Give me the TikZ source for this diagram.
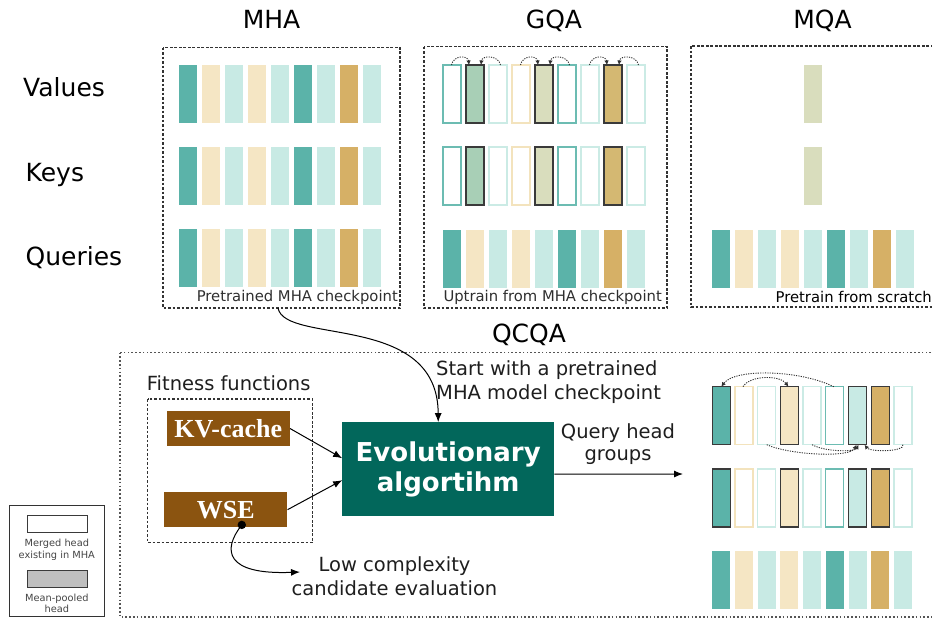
\documentclass[tikz,border=0pt]{standalone}
\usepackage{fontspec}
\setmainfont{DejaVu Sans}
\newfontfamily\timesfont{Liberation Serif}
\usetikzlibrary{arrows.meta,calc}

% head colours
\definecolor{cDT}{HTML}{5BB3A9}
\definecolor{cBG}{HTML}{F5E6C4}
\definecolor{cLT}{HTML}{C8EAE4}
\definecolor{cGD}{HTML}{D6B066}
% mean-pooled heads
\definecolor{cGreen}{HTML}{A8CFB6}
\definecolor{cOlive}{HTML}{D9DDBD}
\definecolor{cGoldM}{HTML}{D4B872}
% outlines of merged (empty) heads
\definecolor{cDTo}{HTML}{6CBCB2}
\definecolor{cLTo}{HTML}{CBEBE5}
\definecolor{cBGo}{HTML}{F3E3BD}
\definecolor{cEdge}{HTML}{3A3A3A}
% boxes and text
\definecolor{cBrown}{HTML}{8B5410}
\definecolor{cEvo}{HTML}{02675B}
\definecolor{cBox}{HTML}{333333}
\definecolor{cBoxL}{HTML}{555555}
\definecolor{cLine}{HTML}{303030}
\definecolor{cCap}{HTML}{2E2E2E}
\definecolor{cBody}{HTML}{1E1E1E}
\definecolor{cLeg}{HTML}{444444}
\definecolor{cPool}{HTML}{BFBFBF}

% head patterns: fill/outline
\def\specMHA{cDT/none,cBG/none,cLT/none,cBG/none,cLT/none,cDT/none,cLT/none,cGD/none,cLT/none}
\def\specGQA{white/cDTo,cGreen/cEdge,white/cLTo,white/cBGo,cOlive/cEdge,white/cDTo,white/cLTo,cGoldM/cEdge,white/cLTo}
\def\specQCQA{cDT/cEdge,white/cBGo,white/cLTo,cBG/cEdge,white/cLTo,white/cDTo,cLT/cEdge,cGD/cEdge,white/cLTo}

% one row of heads: name prefix, x of first head, top y, pitch, pattern
\newcommand\headrow[5]{%
  \foreach \f/\e [count=\i] in #5
    {\node[head, fill=\f, draw=\e] (#1-\i) at ({#2+#4*(\i-1)},#3) {};}}

\begin{document}
\begin{tikzpicture}[x=1pt,y=-1pt,
  head/.style={minimum width=18pt,minimum height=58pt,inner sep=0pt,outer sep=0pt,anchor=north west,line width=1.3pt},
  panel/.style={draw=cBox,line width=1.2pt,dash pattern=on 2.8pt off 1.7pt},
  qbox/.style={draw=cBoxL,line width=1.1pt,dash pattern=on 1.7pt off 2.1pt},
  title/.style={font=\fontsize{25}{30}\selectfont,inner sep=0pt,anchor=base},
  rowlabel/.style={font=\fontsize{25}{30}\selectfont,inner sep=0pt,anchor=base west},
  caption/.style={font=\fontsize{14.8}{17}\selectfont,text=cCap,inner sep=0pt},
  body/.style={font=\fontsize{19.5}{23}\selectfont,text=cBody,inner sep=0pt},
  merge/.style={draw=cLine,line width=0.9pt,dash pattern=on 1.2pt off 1.2pt,-{Latex[length=4.5pt,width=4.5pt]}},
  flow/.style={draw=black,line width=1pt,-{Latex[length=9pt,width=7pt]}},
  metric/.style={fill=cBrown,text=white,inner sep=0pt,minimum width=123pt,minimum height=35pt,font=\timesfont\bfseries\fontsize{26}{30}\selectfont},
  evobox/.style={fill=cEvo,text=white,inner sep=0pt,minimum width=211.7pt,minimum height=93.7pt,align=center,font=\bfseries\fontsize{26}{30}\selectfont},
  legendtxt/.style={font=\fontsize{9.8}{11}\selectfont,text=cLeg,inner sep=0pt,anchor=base}
]
\useasboundingbox (0,0) rectangle (932,624);
\clip (0,0) rectangle (932,624);

% ---------- column titles and row labels ----------
\node[title] (tMHA) at (271.5,28) {MHA};
\node[title] (tGQA) at (554,28) {GQA};
\node[title] (tMQA) at (822.5,28) {MQA};
\node[rowlabel] (lV) at (23,96.7) {Values};
\node[rowlabel] (lK) at (25.5,181.7) {Keys};
\node[rowlabel] (lQ) at (25.5,265) {Queries};

% ---------- MHA ----------
\draw[panel] (163,47.5) rectangle (400,308);
\headrow{mhav}{179}{64.5}{23}{\specMHA}
\headrow{mhak}{179}{146.8}{23}{\specMHA}
\headrow{mhaq}{179}{229.1}{23}{\specMHA}
\node[caption,anchor=base east] (cMHA) at (398,301.5) {Pretrained MHA checkpoint};
\coordinate (mhaout) at (278,308);

% ---------- GQA ----------
\draw[panel] (424,46.5) rectangle (667,308);
\headrow{gqav}{443}{65}{23}{\specGQA}
\headrow{gqak}{443}{147}{23}{\specGQA}
\headrow{gqaq}{443}{229.6}{23}{\specMHA}
\foreach \m [evaluate=\m as \l using int(\m-1), evaluate=\m as \r using int(\m+1)] in {2,5,8} {
  \draw[merge] ([xshift=-0.5pt]gqav-\l.north) .. controls +(2,-10) and +(-1,-10) .. ([xshift=3pt]gqav-\m.north west);
  \draw[merge] ([xshift=2.5pt]gqav-\r.north) .. controls +(-2,-10) and +(1,-10) .. ([xshift=-3pt]gqav-\m.north east);
}
\node[caption,anchor=base west] (cGQA) at (443.3,301.7) {Uptrain from MHA checkpoint};

% ---------- MQA ----------
\draw[panel] (691,46) rectangle (945,307);
\node[head, fill=cOlive] (mqav-1) at (804.3,64.5) {};
\node[head, fill=cOlive] (mqak-1) at (804.3,146.8) {};
\headrow{mqaq}{712.3}{229.6}{23}{\specMHA}
\node[caption,anchor=base east,text=black] (cMQA) at (932,302.2) {Pretrain from scratch};

% ---------- QCQA ----------
\node[title] (tQCQA) at (529,342.7) {QCQA};
\draw[qbox] (120,352.5) rectangle (945,617);

% fitness functions
\node[body,anchor=base west] (tFit) at (146.7,390) {Fitness functions};
\draw[panel] (147.7,399) rectangle (312.3,542.7);
\node[metric] (kv) at (228.3,428.5) {KV-cache};
\node[metric] (wse) at (225.8,509.7) {WSE};

% evolutionary search
\node[evobox] (evo) at (448.2,469.2) {Evolutionary\\algortihm};
\draw[flow] (kv.east) -- ([yshift=11pt]evo.west);
\draw[flow] (wse.east) -- ([yshift=-11pt]evo.west);
\draw[flow] (mhaout) .. controls (285,345) and (438,312) .. ([xshift=-10pt]evo.north);
\node[body,anchor=base west] (tStart1) at (436,375) {Start with a pretrained};
\node[body,anchor=base west] (tStart2) at (436,399) {MHA model checkpoint};

\coordinate (qhg) at (683,474);
\draw[flow] ([yshift=-5pt]evo.east) -- (qhg);
\node[body,anchor=base] (tQ1) at (618,438.3) {Query head};
\node[body,anchor=base] (tQ2) at (618,460.7) {groups};

% low-complexity evaluation branch
\coordinate (wsedot) at ($(wse.south)+(16,-2.5)$);
\coordinate (lowc) at (300,572);
\draw[flow] (wsedot) .. controls (222,550) and (225,575) .. (lowc);
\fill[black] (wsedot) circle (4.2pt);
\node[body,anchor=base] (tLow1) at (394.5,571.7) {Low complexity};
\node[body,anchor=base] (tLow2) at (394.5,595) {candidate evaluation};

% resulting head groups
\headrow{qv}{712.3}{386.7}{22.7}{\specQCQA}
\headrow{qk}{712.3}{469}{22.7}{\specQCQA}
\headrow{qq}{712.3}{551.3}{22.7}{\specMHA}
\draw[merge] ([xshift=-1pt]qv-6.north) .. controls (800,370) and (735,368) .. (qv-1.north);
\draw[merge] ([xshift=-1pt]qv-2.north) .. controls (750,375) and (780,375) .. ([xshift=-1pt]qv-4.north);
\draw[merge] (qv-3.south) .. controls (790,455) and (850,458) .. ([xshift=-1pt]qv-7.south);
\draw[merge] (qv-5.south) .. controls (825,452) and (855,452) .. ([xshift=1pt]qv-7.south);
\draw[merge] (qv-9.south) .. controls (905,452) and (870,452) .. ([xshift=7pt]qv-7.south);

% ---------- legend ----------
\draw[draw=cBox,line width=0.8pt] (9.3,505) rectangle (104.3,616.7);
\node[fill=white,draw=cEdge,line width=1.2pt,minimum width=59.6pt,minimum height=17pt,inner sep=0pt] (legM) at (57.5,524.2) {};
\node[legendtxt] (legM1) at (56.8,546) {Merged head};
\node[legendtxt] (legM2) at (56.8,558.3) {existing in MHA};
\node[fill=cPool,draw=cEdge,line width=1.2pt,minimum width=59.6pt,minimum height=17pt,inner sep=0pt] (legP) at (57.5,578.7) {};
\node[legendtxt] (legP1) at (56.8,601) {Mean-pooled};
\node[legendtxt] (legP2) at (56.8,612.3) {head};
\end{tikzpicture}
\end{document}
